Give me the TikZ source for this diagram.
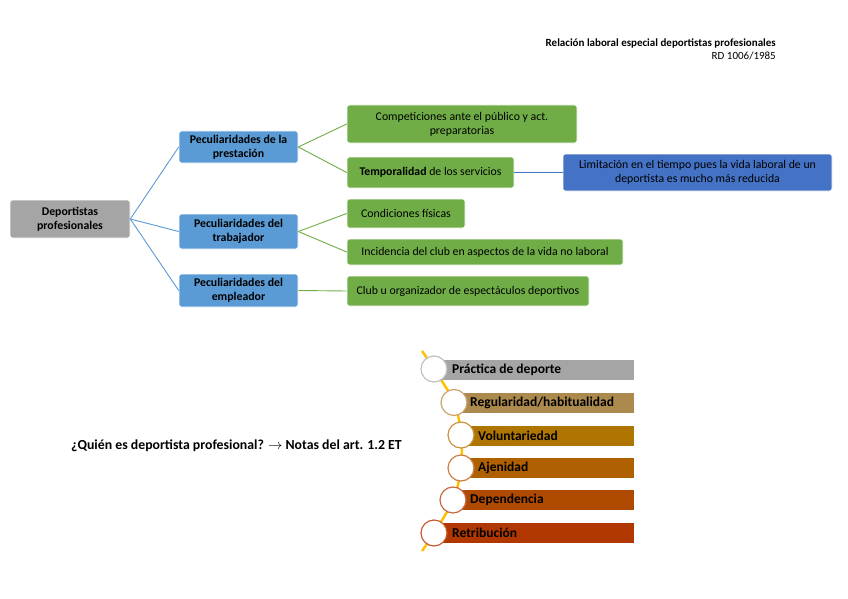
\documentclass[tikz,border=0pt]{standalone}
\usepackage{fontspec}
\setmainfont{Carlito}
\definecolor{gray1}{HTML}{A5A5A5}
\definecolor{rootgray}{HTML}{A5A5A5}
\definecolor{pblue}{HTML}{5B9BD5}
\definecolor{dblue}{HTML}{4472C4}
\definecolor{pgreen}{HTML}{70AD47}
\definecolor{gold}{HTML}{FFC000}
\definecolor{b2}{HTML}{AC8A4E}
\definecolor{b3}{HTML}{AE7600}
\definecolor{b4}{HTML}{AF6000}
\definecolor{b5}{HTML}{AF4A00}
\definecolor{b6}{HTML}{B03800}
\definecolor{o2}{HTML}{C9A46A}
\definecolor{o3}{HTML}{C99440}
\definecolor{o4}{HTML}{C98040}
\definecolor{o5}{HTML}{C86A40}
\definecolor{o6}{HTML}{C85A30}
\tikzset{
  box/.style={rectangle, rounded corners=2.5pt, draw=white, line width=0.6pt, align=center, inner sep=2pt, font=\fontsize{11.8}{14}\selectfont},
  rootbox/.style={box, fill=rootgray, font=\bfseries\fontsize{11.8}{14}\selectfont},
  pbox/.style={box, fill=pblue, font=\bfseries\fontsize{11.8}{14}\selectfont},
  gbox/.style={box, fill=pgreen},
  lbox/.style={box, fill=dblue},
  bluelink/.style={draw=pblue, line width=0.9pt},
  greenlink/.style={draw=pgreen, line width=0.9pt},
  bar/.style={rectangle, minimum height=20pt, inner sep=0pt, anchor=west},
  dot/.style={circle, fill=white, line width=1.2pt, minimum size=26pt, inner sep=0pt},
  barlabel/.style={anchor=west, inner sep=0pt, font=\bfseries\fontsize{13.5}{16}\selectfont},
}
\begin{document}
\begin{tikzpicture}[x=1pt,y=-1pt]
\useasboundingbox (0,0) rectangle (848,599);
% header
\node[anchor=east, inner sep=0pt, font=\bfseries\fontsize{11}{13}\selectfont] (h1) at (776,43) {Relación laboral especial deportistas profesionales};
\node[anchor=east, inner sep=0pt, font=\fontsize{11}{13}\selectfont] (h2) at (776,56) {RD 1006/1985};
% tree
\node[rootbox, minimum width=120pt, minimum height=38pt] (root) at (70,219) {Deportistas\\profesionales};
\node[pbox, minimum width=119pt, minimum height=32pt] (p1) at (238.5,147) {Peculiaridades de la\\prestación};
\node[pbox, minimum width=119pt, minimum height=35pt] (p2) at (238.5,231.5) {Peculiaridades del\\trabajador};
\node[pbox, minimum width=119pt, minimum height=33pt] (p3) at (238.5,290.5) {Peculiaridades del\\empleador};
\node[gbox, minimum width=230pt, minimum height=38pt] (g1) at (462,124) {Competiciones ante el público y act.\\preparatorias};
\node[gbox, minimum width=167pt, minimum height=31pt] (g2) at (430.5,172.5) {\textbf{Temporalidad} de los servicios};
\node[gbox, minimum width=118pt, minimum height=29pt] (g3) at (406,213.5) {Condiciones físicas};
\node[gbox, minimum width=276pt, minimum height=26pt] (g4) at (485,252) {Incidencia del club en aspectos de la vida no laboral};
\node[gbox, minimum width=242pt, minimum height=30pt] (g5) at (468,291) {Club u organizador de espectáculos deportivos};
\node[lbox, minimum width=269pt, minimum height=37pt] (lim) at (697.5,172.5) {Limitación en el tiempo pues la vida laboral de un\\deportista es mucho más reducida};
\draw[bluelink] (root.east) -- (p1.west);
\draw[bluelink] (root.east) -- (p2.west);
\draw[bluelink] (root.east) -- (p3.west);
\draw[greenlink] (p1.east) -- (g1.west);
\draw[greenlink] (p1.east) -- (g2.west);
\draw[greenlink] (p2.east) -- (g3.west);
\draw[greenlink] (p2.east) -- (g4.west);
\draw[greenlink] (p3.east) -- (g5.west);
\draw[draw=dblue, line width=0.9pt] (g2.east) -- (lim.west);
% question
\node[anchor=west, inner sep=0pt, font=\bfseries\fontsize{13.8}{16}\selectfont] (q) at (71,446) {¿Quién es deportista profesional? $\rightarrow$ Notas del art. 1.2 ET};
% list
\coordinate (s0) at (422,351);
\coordinate (s1) at (434,369);
\coordinate (s2) at (454,402.5);
\coordinate (s3) at (461,435);
\coordinate (s4) at (461,468);
\coordinate (s5) at (453,500);
\coordinate (s6) at (434,533);
\coordinate (s7) at (422,551);
\draw[gold, line width=2.5pt] plot[smooth, tension=0.6] coordinates {(s0) (s1) (s2) (s3) (s4) (s5) (s6) (s7)};
\node[bar, fill=gray1, minimum width=200pt] (b1) at (434,369.5) {};
\node[bar, fill=b2, minimum width=180pt] (b2) at (454,402.5) {};
\node[bar, fill=b3, minimum width=173pt] (b3) at (461,435.5) {};
\node[bar, fill=b4, minimum width=173pt] (b4) at (461,467.5) {};
\node[bar, fill=b5, minimum width=181pt] (b5) at (453,500) {};
\node[bar, fill=b6, minimum width=200pt] (b6) at (434,533) {};
\node[dot, draw=gray1!70] (c1) at (s1) {};
\node[dot, draw=o2] (c2) at (s2) {};
\node[dot, draw=o3] (c3) at (s3) {};
\node[dot, draw=o4] (c4) at (s4) {};
\node[dot, draw=o5] (c5) at (s5) {};
\node[dot, draw=o6] (c6) at (s6) {};
\node[barlabel] (t1) at (452,369.5) {Práctica de deporte};
\node[barlabel] (t2) at (470,402.5) {Regularidad/habitualidad};
\node[barlabel] (t3) at (478,435.5) {Voluntariedad};
\node[barlabel] (t4) at (478,467.5) {Ajenidad};
\node[barlabel] (t5) at (470,500) {Dependencia};
\node[barlabel] (t6) at (452,533) {Retribución};
\end{tikzpicture}
\end{document}
